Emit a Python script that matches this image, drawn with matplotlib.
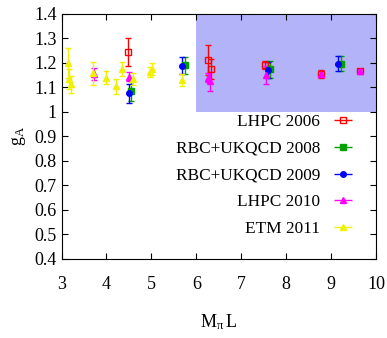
import matplotlib
matplotlib.use('Agg')
import matplotlib.pyplot as plt
from matplotlib.ticker import FormatStrFormatter
from matplotlib.patches import Rectangle

plt.rcParams['font.family'] = 'Liberation Serif'
plt.rcParams['mathtext.fontset'] = 'custom'
plt.rcParams['mathtext.rm'] = 'Liberation Serif'
plt.rcParams['mathtext.it'] = 'Liberation Serif:italic'

# data
lhpc06_x = [4.48, 6.26, 6.32, 7.52, 8.78, 9.64]
lhpc06_y = [1.244, 1.212, 1.174, 1.192, 1.154, 1.167]
lhpc06_e = [0.058, 0.06, 0.04, 0.015, 0.015, 0.01]

rbc08_x = [4.55, 5.75, 7.63, 9.21]
rbc08_y = [1.085, 1.19, 1.174, 1.197]
rbc08_e = [0.04, 0.035, 0.035, 0.03]

rbc09_x = [4.50, 5.69, 7.59, 9.15]
rbc09_y = [1.075, 1.188, 1.172, 1.197]
rbc09_e = [0.04, 0.035, 0.033, 0.03]

lhpc10_x = [3.73, 4.50, 6.26, 6.30, 7.55, 8.78, 9.64]
lhpc10_y = [1.155, 1.143, 1.14, 1.124, 1.151, 1.155, 1.167]
lhpc10_e = [0.025, 0.018, 0.02, 0.04, 0.038, 0.012, 0.01]

etm11_x = [3.15, 3.17, 3.22, 3.69, 4.0, 4.22, 4.35, 4.59, 4.96, 5.01, 5.69]
etm11_y = [1.2, 1.135, 1.113, 1.157, 1.14, 1.104, 1.175, 1.134, 1.163, 1.174, 1.13]
etm11_e = [0.06, 0.04, 0.034, 0.047, 0.027, 0.032, 0.03, 0.024, 0.02, 0.025, 0.025]

shade_x = (6, 10)
shade_y = (1.0, 1.4)

series = [
    ('LHPC 2006', lhpc06_x, lhpc06_y, lhpc06_e, '#ff0000', 's', 'none'),
    ('RBC+UKQCD 2008', rbc08_x, rbc08_y, rbc08_e, '#00a000', 's', None),
    ('RBC+UKQCD 2009', rbc09_x, rbc09_y, rbc09_e, '#0000ff', 'o', None),
    ('LHPC 2010', lhpc10_x, lhpc10_y, lhpc10_e, '#ff00ff', '^', None),
    ('ETM 2011', etm11_x, etm11_y, etm11_e, '#f0f000', '^', None),
]

fig = plt.figure(figsize=(3.87, 3.38), dpi=100)
ax = fig.add_axes([0.159, 0.234, 0.813, 0.725])

ax.add_patch(Rectangle((shade_x[0], shade_y[0]), shade_x[1] - shade_x[0],
                       shade_y[1] - shade_y[0], color='#b3b3fa', lw=0, zorder=0))

handles = []
for name, x, y, e, c, m, fc in series:
    ms = 5 if m == 's' else 4
    ax.errorbar(x, y, yerr=e, fmt=m, color=c, ms=ms, mfc=fc if fc else c,
                mec=c, elinewidth=1, capsize=2, capthick=1)
    h = ax.errorbar([], [], xerr=[], fmt=m, color=c, ms=ms, mfc=fc if fc else c,
                    mec=c, elinewidth=1, capsize=2, capthick=1, label=name)
    handles.append(h)

ax.set_xlim(3, 10)
ax.set_ylim(0.4, 1.4)
ax.set_xticks(range(3, 11))
ax.set_yticks([0.4, 0.5, 0.6, 0.7, 0.8, 0.9, 1.0, 1.1, 1.2, 1.3, 1.4])
ax.yaxis.set_major_formatter(FormatStrFormatter('%g'))
ax.tick_params(direction='in', top=True, right=True, labelsize=13, length=4)
ax.tick_params(axis='x', pad=12)

ax.set_xlabel(r'$\mathrm{M_\pi\,L}$', fontsize=13, labelpad=14)
ax.set_ylabel(r'$\mathrm{g_A}$', fontsize=13, labelpad=4)

ax.legend(handles=handles, loc='center right', bbox_to_anchor=(0.936, 0.34),
          frameon=False, markerfirst=False, fontsize=12.4, handlelength=1.5,
          labelspacing=0.62, handletextpad=0.58, borderaxespad=0, borderpad=0)

fig.savefig('out.png', dpi=100)
